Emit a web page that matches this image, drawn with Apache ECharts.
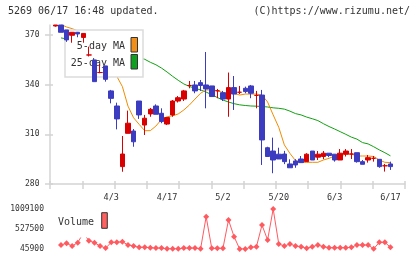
<!DOCTYPE html>
<html><head><meta charset="utf-8">
<script src="https://cdn.jsdelivr.net/npm/echarts@6/dist/echarts.min.js"></script>
<style>html,body{margin:0;padding:0;background:#fff}#c{width:420px;height:259px}</style>
</head><body><div id="c"></div>
<script>
const dates = ['3/19','3/21','3/24','3/25','3/26','3/27','3/28','3/31','4/1','4/2',
  '4/3','4/4','4/7','4/8','4/9','4/10','4/11','4/14','4/15','4/16',
  '4/17','4/18','4/21','4/22','4/23','4/24','4/25','4/28','4/30','5/1',
  '5/2','5/7','5/8','5/9','5/12','5/13','5/14','5/15','5/16','5/19',
  '5/20','5/21','5/22','5/23','5/26','5/27','5/28','5/29','5/30','6/2',
  '6/3','6/4','6/5','6/6','6/9','6/10','6/11','6/12','6/13','6/16','6/17'];
const opens = [375.4,376,373,369.8,371.6,368.5,357.9,354.9,347.3,351.3,
  336.2,327.1,290.5,310.6,312,330.1,315.6,322.3,327.1,322.7,
  316.2,321.7,330.1,331.3,339.5,339.8,341.2,339.8,339.2,336.3,
  335.1,331.3,338.2,335.4,337.8,339.2,333.5,333.7,301.9,299.9,
  298,298.1,292.1,293.9,295.1,293.5,299.9,296.2,296.6,298.6,
  298,294.5,298,298.1,298.9,293.5,294.5,295.5,294.9,291,292.1];
const closes = [376,371.6,367,371.6,370.6,370.9,357.9,341.8,347.3,343.2,
  331.7,319.3,298.1,316.7,305.5,321.7,319.7,325.1,322.1,317.7,
  320.1,330.1,332.1,336.2,339.5,336.2,339.5,337.4,332.8,336.3,
  331.3,338.2,334.3,335.4,335.8,334.8,333.5,306.6,296.6,294.5,
  295.1,293.5,289.8,291.5,292.9,298,294.5,298,298.6,297.2,
  294.5,298.6,299.9,298.1,293.5,291.9,295.9,295.5,290.5,291,290.5];
const lows = [375,371.6,365.8,365.3,368.6,365.3,357,341.8,346.9,341.8,
  328.7,313,287.4,310.6,302.5,319.3,309.6,320.6,322.1,316.7,
  315.6,320.6,329.2,330.1,337.8,334.8,336.2,325.7,332.8,331.8,
  330.1,320.6,324.7,334.3,334.8,331.8,325.7,291.5,296.6,286.5,
  295.1,292,289.8,289.8,292.9,293.5,294.5,294.5,295,296.2,
  293.5,294.5,296.6,295.1,292.9,291.9,292.9,293.5,289.8,287.5,288.5];
const highs = [376,376,373,371.6,371.8,370.9,362.9,354.9,352,351.3,
  336.8,329.1,309,324.3,313.2,330.1,321.7,325.9,328.1,325.7,
  320.1,330.7,333.1,336.8,342.2,342.2,342.8,359.7,339.2,337.4,
  336.2,347.3,345.2,339.2,338.8,339.8,336.2,336.8,302.5,308,
  301.9,300,294.9,295,296.9,298.6,299.9,299.9,299.9,298.6,
  298,301.1,301.1,301.1,298.9,294.5,297.5,296.9,294.9,292.1,293.5];
const ma5 = [null,376.3,374.8,373.8,372.5,371,369,366,362,357,
  351,345,338.8,327,320,316,312.2,312.2,315,319,
  320.6,321.2,322.3,324.7,327.7,331.3,334.8,336.8,336.8,336.3,
  335.2,334.8,334.8,333.7,334.3,334.3,334.3,333.7,329.5,321.7,
  314.2,303.6,298.5,294.1,293.1,293.1,293.1,293.1,294.5,295.5,
  296.9,296.9,298.1,298.1,296.9,296.9,296.9,296.6,294.5,293.1,292.9];
const ma25 = [null,368.2,367.6,367,366.3,365.6,364.8,364,363.2,362.4,
  361.5,360.5,359.5,358.4,357.3,356.3,355.3,353.5,352,350,
  347.6,345,342.6,340.4,338.9,337.8,336.8,335.5,333.9,332.2,
  330.7,329.5,328.5,327.8,327.4,327.1,327,326.8,326.5,326,
  325.7,325.2,324,322.5,321.7,320.4,319.4,318.3,316.4,314.7,
  313.2,311.6,310,308.3,307.1,305,304.2,302.5,300.6,298.9,297];
const volumes = [null,142000,183000,118000,198000,431000,245800,197600,118000,67600,
  207000,207000,221700,142000,118000,86800,86800,77000,67600,67600,
  52000,50000,50000,67600,67600,67600,50000,823700,62000,62000,
  62000,744000,342000,45900,48000,86800,101000,623800,262600,1009100,
  166300,118000,166300,118000,101000,62000,101000,142000,101000,77000,
  77000,77000,77000,86800,142000,142000,142000,50000,207000,207000,86800];
const priceTicks = [280,310,340,370];
const volumeTicks = [45900,527500,1009100];
const labelDates = ['4/3','4/17','5/2','5/20','6/3','6/17'];
const padSlots = ['','',''];

const cats = dates.concat(padSlots);
const candles = dates.map((d,i)=>[opens[i],closes[i],lows[i],highs[i]]);
const FONT = '"DejaVu Sans Mono", monospace';
const GRAY = '#d4d4d4';
const chart = echarts.init(document.getElementById('c'), null, {renderer:'canvas'});
chart.setOption({
  animation:false,
  grid:[
    {left:52.6, right:10, top:25, bottom:75},
    {left:52.6, right:10, top:209, bottom:10},
    {left:50, right:15, top:25, bottom:75}
  ],
  xAxis:[
    {type:'category', gridIndex:0, data:cats, boundaryGap:true,
     axisLine:{show:false}, axisTick:{show:false}, splitLine:{show:false},
     axisLabel:{interval:(i)=>labelDates.indexOf(cats[i])>=0, margin:9,
       fontFamily:FONT, fontSize:8.5, color:'#333'}},
    {type:'category', gridIndex:1, data:cats, boundaryGap:true, show:false},
    {type:'value', gridIndex:2, min:0, max:11, interval:1, position:'bottom',
     axisLine:{show:true, lineStyle:{color:GRAY, width:1.5}},
     axisTick:{show:true, length:5, lineStyle:{color:GRAY, width:1.5}},
     axisLabel:{show:false}, splitLine:{show:false}},
    {type:'value', gridIndex:2, min:0, max:11, interval:1, position:'bottom',
     axisLine:{show:false},
     axisTick:{show:true, inside:true, length:3, lineStyle:{color:GRAY, width:1.5}},
     axisLabel:{show:false}, splitLine:{show:false}}
  ],
  yAxis:[
    {type:'value', gridIndex:0, min:280, max:376, show:false, splitLine:{show:false}},
    {type:'value', gridIndex:1, min:45900, max:1009100,
     axisLine:{show:false}, axisTick:{show:false}, splitLine:{show:false},
     axisLabel:{customValues:volumeTicks, formatter:(v)=>String(v), margin:8.6,
       fontFamily:FONT, fontSize:8, color:'#333'}},
    {type:'value', gridIndex:2, min:280, max:376, position:'left',
     axisLine:{show:true, lineStyle:{color:GRAY, width:1.5}},
     axisTick:{show:true, customValues:priceTicks, length:5, lineStyle:{color:GRAY, width:1.5}},
     axisLabel:{customValues:priceTicks, formatter:(v)=>String(v), margin:10.5,
       fontFamily:FONT, fontSize:8, color:'#333'},
     splitLine:{show:false}},
    {type:'value', gridIndex:2, min:280, max:376, position:'left',
     axisLine:{show:false},
     axisTick:{show:true, inside:true, customValues:priceTicks, length:3, lineStyle:{color:GRAY, width:1.5}},
     axisLabel:{show:false}, splitLine:{show:false}}
  ],
  series:[
    {type:'line', name:'25-day MA', xAxisIndex:0, yAxisIndex:0, data:ma25, symbol:'none',
     lineStyle:{color:'#10a010', width:1}, z:2, silent:true, clip:true},
    {type:'line', name:'5-day MA', xAxisIndex:0, yAxisIndex:0, data:ma5, symbol:'none',
     lineStyle:{color:'#f08c00', width:1}, z:2, silent:true, clip:true},
    {type:'candlestick', xAxisIndex:0, yAxisIndex:0, data:candles, barWidth:5, z:10, clip:true,
     itemStyle:{color:'#d80000', color0:'#3c3cc0', borderColor:'#d80000', borderColor0:'#3c3cc0',
       borderColorDoji:'#d80000', borderWidth:1}},
    {type:'line', name:'Volume', xAxisIndex:1, yAxisIndex:1, data:volumes, symbol:'diamond',
     symbolSize:6, showAllSymbol:true, itemStyle:{color:'#ff5a60'},
     lineStyle:{color:'#ff5a60', width:1}, z:2, silent:true}
  ],
  graphic:[
    {type:'text', x:8, y:11, z:5, style:{text:'5269 06/17 16:48 updated.', font:'10px '+FONT, fill:'#333', verticalAlign:'middle'}},
    {type:'text', x:410, y:11, z:5, style:{text:'(C)https://www.rizumu.net/', font:'10px '+FONT, fill:'#333', align:'right', verticalAlign:'middle'}},
    {type:'rect', z:5, shape:{x:65, y:30, width:78, height:47}, style:{fill:'#fff', stroke:'#dcdcdc', lineWidth:1.5}},
    {type:'text', z:6, x:125, y:46, style:{text:'5-day MA', font:'10px '+FONT, fill:'#333', align:'right', verticalAlign:'middle'}},
    {type:'text', z:6, x:125, y:63.5, style:{text:'25-day MA', font:'10px '+FONT, fill:'#333', align:'right', verticalAlign:'middle'}},
    {type:'rect', z:6, shape:{x:131, y:37.5, width:6.5, height:14.5}, style:{fill:'#f0901a', stroke:'#333', lineWidth:1}},
    {type:'rect', z:6, shape:{x:131, y:54.5, width:6.5, height:14.5}, style:{fill:'#10a020', stroke:'#333', lineWidth:1}},
    {type:'rect', z:5, shape:{x:55, y:209, width:57, height:28.5}, style:{fill:'#fff'}},
    {type:'text', z:6, x:58, y:222, style:{text:'Volume', font:'10px '+FONT, fill:'#333', verticalAlign:'middle'}},
    {type:'rect', z:6, shape:{x:101.7, y:212.7, width:5.6, height:15.6}, style:{fill:'#ff6060', stroke:'#333', lineWidth:1}}
  ]
});
</script></body></html>
